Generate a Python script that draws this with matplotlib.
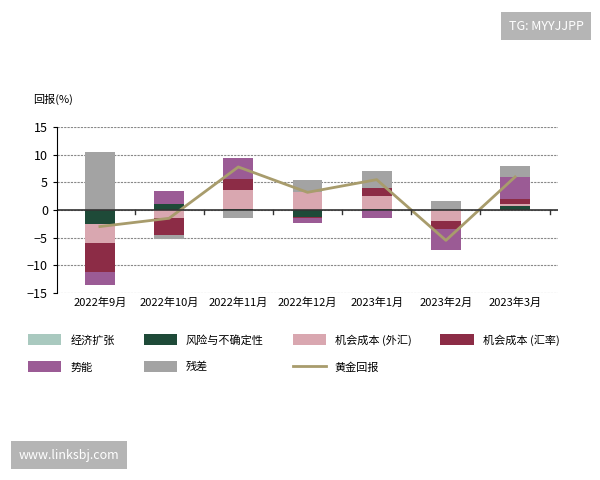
import matplotlib
matplotlib.use("Agg")
import matplotlib.pyplot as plt
import numpy as np

plt.rcParams['font.family'] = ['Noto Sans CJK SC']

categories = ["2022年9月", "2022年10月", "2022年11月", "2022年12月", "2023年1月", "2023年2月", "2023年3月"]
econ = [0.0, 0.0, 0.0, 0.0, 0.0, 0.0, 0.0]
risk = [-2.5, 1.1, 0.2, -1.2, 0.2, 0.0, 0.7]
fx = [-3.4, -1.4, 3.4, 3.2, 2.4, -2.0, 0.4]
rate = [-5.3, -3.2, 2.0, -0.3, 1.4, -1.4, 0.9]
momentum = [-2.4, 2.4, 3.8, -0.9, -1.5, -3.8, 4.0]
resid = [10.5, -0.6, -1.5, 2.2, 3.0, 1.7, 2.0]
gold = [-3.0, -1.5, 7.8, 3.2, 5.5, -5.5, 6.0]

series = [("经济扩张", econ, "#a9c9bf"), ("风险与不确定性", risk, "#1e4a38"),
          ("机会成本 (外汇)", fx, "#d9a7b0"), ("机会成本 (汇率)", rate, "#8c2c46"),
          ("势能", momentum, "#9b5b95"), ("残差", resid, "#a3a3a3")]

fig = plt.figure(figsize=(6, 4.8), dpi=100)
ax = fig.add_axes([0.095, 0.39, 0.835, 0.345])
x = np.arange(len(categories))
pos = np.zeros(len(x)); neg = np.zeros(len(x))
handles = []
for name, vals, col in series:
    v = np.array(vals)
    bottom = np.where(v >= 0, pos, neg)
    h = ax.bar(x, v, 0.43, bottom=bottom, color=col, label=name)
    pos = pos + np.where(v >= 0, v, 0); neg = neg + np.where(v < 0, v, 0)
    handles.append(h)
ln, = ax.plot(x, gold, color="#a89c6c", lw=2, label="黄金回报")
handles.append(ln)

ax.set_xlim(-0.62, 6.62)
ax.set_ylim(-15, 15)
ax.set_yticks(range(-15, 16, 5))
ax.set_xticks(x)
ax.set_xticklabels(categories, fontsize=8)
ax.tick_params(axis='y', labelsize=9, length=3)
ax.tick_params(axis='x', length=0)
ax.yaxis.grid(True, ls=(0, (2, 1)), color="#888", lw=0.8)
ax.set_axisbelow(True)
for s in ["top", "right", "bottom"]:
    ax.spines[s].set_visible(False)
ax.axhline(0, color="#333", lw=1.2)
for xb in np.arange(0.5, 6.6, 1.0):
    ax.plot([xb, xb], [0, -0.8], color="#333", lw=1)
fig.text(0.055, 0.785, "回报(%)", fontsize=8)

order = [0, 4, 1, 5, 2, 6, 3]
hs = [handles[i] for i in order]
fig.legend(handles=hs, labels=[h.get_label() for h in hs], loc="upper left",
           bbox_to_anchor=(0.03, 0.325), ncol=4, frameon=False, fontsize=8,
           handlelength=3, handleheight=1.2, columnspacing=2.6, labelspacing=1.4)

fig.text(0.91, 0.945, "TG: MYYJJPP", fontsize=9, color="white", ha="center", va="center",
         bbox=dict(boxstyle="square,pad=0.6", fc="#b5b5b5", ec="none"))
fig.text(0.115, 0.052, "www.linksbj.com", fontsize=9, color="white", ha="center", va="center",
         bbox=dict(boxstyle="square,pad=0.6", fc="#b5b5b5", ec="none"))
fig.savefig("out.png", dpi=100, facecolor="white")
